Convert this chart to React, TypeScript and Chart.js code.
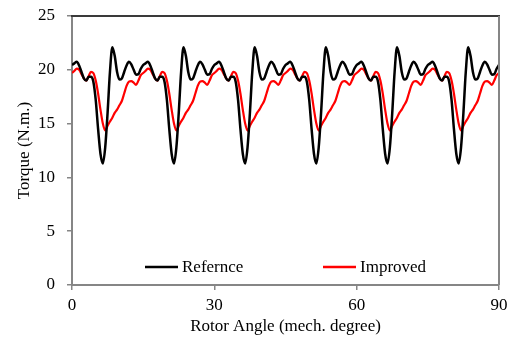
import { useEffect, useRef } from "react";
import { Chart, registerables } from "chart.js";

Chart.register(...registerables);

// Sampling step of the torque waveforms (mechanical degrees)
const ANGLE_STEP = 0.5;

// Electromagnetic torque of the reference machine (N.m.)
const REFERENCE_TORQUE = [
  20.45, 20.6, 20.75, 20.4, 19.8, 19.2, 19.0, 19.35, 19.35, 18.9, 17.2, 14.5, 12.2, 11.3, 12.8, 16.0, 19.8, 22.1, 21.3, 19.8, 19.1, 19.2, 19.8, 20.4, 20.75, 20.5, 20.0, 19.55, 19.6, 20.1,
  20.45, 20.6, 20.75, 20.4, 19.8, 19.2, 19.0, 19.35, 19.35, 18.9, 17.2, 14.5, 12.2, 11.3, 12.8, 16.0, 19.8, 22.1, 21.3, 19.8, 19.1, 19.2, 19.8, 20.4, 20.75, 20.5, 20.0, 19.55, 19.6, 20.1,
  20.45, 20.6, 20.75, 20.4, 19.8, 19.2, 19.0, 19.35, 19.35, 18.9, 17.2, 14.5, 12.2, 11.3, 12.8, 16.0, 19.8, 22.1, 21.3, 19.8, 19.1, 19.2, 19.8, 20.4, 20.75, 20.5, 20.0, 19.55, 19.6, 20.1,
  20.45, 20.6, 20.75, 20.4, 19.8, 19.2, 19.0, 19.35, 19.35, 18.9, 17.2, 14.5, 12.2, 11.3, 12.8, 16.0, 19.8, 22.1, 21.3, 19.8, 19.1, 19.2, 19.8, 20.4, 20.75, 20.5, 20.0, 19.55, 19.6, 20.1,
  20.45, 20.6, 20.75, 20.4, 19.8, 19.2, 19.0, 19.35, 19.35, 18.9, 17.2, 14.5, 12.2, 11.3, 12.8, 16.0, 19.8, 22.1, 21.3, 19.8, 19.1, 19.2, 19.8, 20.4, 20.75, 20.5, 20.0, 19.55, 19.6, 20.1,
  20.45, 20.6, 20.75, 20.4, 19.8, 19.2, 19.0, 19.35, 19.35, 18.9, 17.2, 14.5, 12.2, 11.3, 12.8, 16.0, 19.8, 22.1, 21.3, 19.8, 19.1, 19.2, 19.8, 20.4, 20.75, 20.5, 20.0, 19.55, 19.6, 20.1,
  20.45,
];

// Electromagnetic torque of the improved machine (N.m.)
const IMPROVED_TORQUE = [
  19.7, 19.9, 20.1, 20.0, 19.6, 19.2, 19.0, 19.4, 19.8, 19.7, 19.0, 17.8, 16.3, 15.0, 14.35, 14.8, 15.2, 15.55, 16.0, 16.3, 16.7, 17.1, 17.8, 18.5, 18.9, 18.95, 18.8, 18.6, 19.0, 19.5,
  19.7, 19.9, 20.1, 20.0, 19.6, 19.2, 19.0, 19.4, 19.8, 19.7, 19.0, 17.8, 16.3, 15.0, 14.35, 14.8, 15.2, 15.55, 16.0, 16.3, 16.7, 17.1, 17.8, 18.5, 18.9, 18.95, 18.8, 18.6, 19.0, 19.5,
  19.7, 19.9, 20.1, 20.0, 19.6, 19.2, 19.0, 19.4, 19.8, 19.7, 19.0, 17.8, 16.3, 15.0, 14.35, 14.8, 15.2, 15.55, 16.0, 16.3, 16.7, 17.1, 17.8, 18.5, 18.9, 18.95, 18.8, 18.6, 19.0, 19.5,
  19.7, 19.9, 20.1, 20.0, 19.6, 19.2, 19.0, 19.4, 19.8, 19.7, 19.0, 17.8, 16.3, 15.0, 14.35, 14.8, 15.2, 15.55, 16.0, 16.3, 16.7, 17.1, 17.8, 18.5, 18.9, 18.95, 18.8, 18.6, 19.0, 19.5,
  19.7, 19.9, 20.1, 20.0, 19.6, 19.2, 19.0, 19.4, 19.8, 19.7, 19.0, 17.8, 16.3, 15.0, 14.35, 14.8, 15.2, 15.55, 16.0, 16.3, 16.7, 17.1, 17.8, 18.5, 18.9, 18.95, 18.8, 18.6, 19.0, 19.5,
  19.7, 19.9, 20.1, 20.0, 19.6, 19.2, 19.0, 19.4, 19.8, 19.7, 19.0, 17.8, 16.3, 15.0, 14.35, 14.8, 15.2, 15.55, 16.0, 16.3, 16.7, 17.1, 17.8, 18.5, 18.9, 18.95, 18.8, 18.6, 19.0, 19.5,
  19.7,
];

const SERIES_LABELS = ["Refernce", "Improved"];
const SERIES_COLORS = ["#000000", "#ff0000"];

const X_TICKS = [0, 30, 60, 90];
const Y_TICKS = [0, 5, 10, 15, 20, 25];

const X_TITLE = "Rotor Angle (mech. degree)";
const Y_TITLE = "Torque (N.m.)";

const FONT_FAMILY = "'Liberation Serif', 'Times New Roman', serif";
const AXIS_GREY = "#868686";

const toPoints = (values: number[]) =>
  values.map((y, i) => ({ x: i * ANGLE_STEP, y }));

// Closes the plot frame (top and right edges)
const framePlugin = {
  id: "frame",
  afterDatasetsDraw(chart: any) {
    const { ctx, chartArea } = chart;
    ctx.save();
    ctx.lineWidth = 2;
    ctx.strokeStyle = "#3a3a3a";
    ctx.beginPath();
    ctx.moveTo(chartArea.left - 1, chartArea.top);
    ctx.lineTo(chartArea.right + 1, chartArea.top);
    ctx.stroke();
    ctx.strokeStyle = AXIS_GREY;
    ctx.beginPath();
    ctx.moveTo(chartArea.right, chartArea.top);
    ctx.lineTo(chartArea.right, chartArea.bottom);
    ctx.stroke();
    ctx.restore();
  },
};

// Legend drawn inside the bottom of the plot area
const innerLegendPlugin = {
  id: "innerLegend",
  afterDraw(chart: any) {
    const { ctx, chartArea } = chart;
    const y = chartArea.bottom - 18;
    const offsets = [73, 251];
    ctx.save();
    ctx.font = `17px ${FONT_FAMILY}`;
    ctx.textBaseline = "middle";
    ctx.textAlign = "left";
    chart.data.datasets.forEach((ds: any, i: number) => {
      const x0 = chartArea.left + offsets[i];
      ctx.strokeStyle = ds.borderColor;
      ctx.lineWidth = 2.5;
      ctx.beginPath();
      ctx.moveTo(x0, y);
      ctx.lineTo(x0 + 33, y);
      ctx.stroke();
      ctx.fillStyle = "#000";
      ctx.fillText(ds.label, x0 + 37, y + 1);
    });
    ctx.restore();
  },
};

export default function App() {
  const canvasRef = useRef<HTMLCanvasElement | null>(null);

  useEffect(() => {
    if (!canvasRef.current) return;
    const chart = new Chart(canvasRef.current, {
      type: "line",
      data: {
        datasets: [
          {
            label: SERIES_LABELS[0],
            data: toPoints(REFERENCE_TORQUE),
            borderColor: SERIES_COLORS[0],
            borderWidth: 2.5,
            pointRadius: 0,
            cubicInterpolationMode: "monotone",
          },
          {
            label: SERIES_LABELS[1],
            data: toPoints(IMPROVED_TORQUE),
            borderColor: SERIES_COLORS[1],
            borderWidth: 2.2,
            pointRadius: 0,
            cubicInterpolationMode: "monotone",
          },
        ],
      },
      options: {
        animation: false,
        responsive: false,
        maintainAspectRatio: false,
        layout: { padding: { left: 0, right: 15, top: 16, bottom: 0 } },
        plugins: {
          legend: { display: false },
          tooltip: { enabled: false },
        },
        scales: {
          x: {
            type: "linear",
            min: X_TICKS[0],
            max: X_TICKS[X_TICKS.length - 1],
            afterBuildTicks: (scale: any) => {
              scale.ticks = X_TICKS.map((v) => ({ value: v }));
            },
            afterFit: (scale: any) => {
              scale.height = 59;
            },
            grid: {
              drawOnChartArea: false,
              drawTicks: true,
              tickLength: 5,
              color: AXIS_GREY,
              lineWidth: 1.5,
            },
            border: { display: true, color: AXIS_GREY, width: 2 },
            ticks: {
              color: "#000",
              font: { family: FONT_FAMILY, size: 17 },
              padding: 5,
              maxRotation: 0,
            },
            title: {
              display: true,
              text: X_TITLE,
              color: "#000",
              font: { family: FONT_FAMILY, size: 17 },
              padding: { top: 0, bottom: 7 },
            },
          },
          y: {
            type: "linear",
            min: Y_TICKS[0],
            max: Y_TICKS[Y_TICKS.length - 1],
            afterBuildTicks: (scale: any) => {
              scale.ticks = Y_TICKS.map((v) => ({ value: v }));
            },
            afterFit: (scale: any) => {
              scale.width = 72;
              scale.paddingTop = 0;
              scale.paddingBottom = 0;
            },
            grid: {
              drawOnChartArea: false,
              drawTicks: true,
              tickLength: 5,
              color: AXIS_GREY,
              lineWidth: 1.5,
            },
            border: { display: true, color: AXIS_GREY, width: 2 },
            ticks: {
              color: "#000",
              font: { family: FONT_FAMILY, size: 17 },
              padding: 12,
            },
            title: {
              display: true,
              text: Y_TITLE,
              color: "#000",
              font: { family: FONT_FAMILY, size: 17 },
              padding: { top: 14, bottom: 0 },
            },
          },
        },
      },
      plugins: [framePlugin, innerLegendPlugin],
    });
    return () => chart.destroy();
  }, []);

  return (
    <div style={{ position: "fixed", left: 0, top: 0, width: 514, height: 344, background: "#fff" }}>
      <canvas ref={canvasRef} width={514} height={344} style={{ display: "block" }} />
    </div>
  );
}
